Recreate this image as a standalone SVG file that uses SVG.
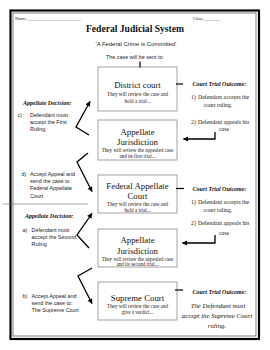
<svg xmlns="http://www.w3.org/2000/svg" width="270" height="350" viewBox="0 0 270 350">
<defs>
<marker id="ah" viewBox="0 0 10 10" refX="9" refY="5" markerWidth="4" markerHeight="4" orient="auto" markerUnits="strokeWidth">
<path d="M0,0 L10,5 L0,10 z" fill="#000"/>
</marker>
<style>
.box{fill:#fff;stroke:#8a8a8a;stroke-width:0.8}
.bt{font-family:"Liberation Serif",serif;font-size:8.8px;fill:#111;text-anchor:middle}
.bs{font-family:"Liberation Serif",serif;font-size:5.1px;fill:#222;text-anchor:middle}
.hd{font-family:"Liberation Serif",serif;font-size:6px;font-style:italic;font-weight:bold;fill:#111}
.lt{font-family:"Liberation Sans",sans-serif;font-size:5.4px;fill:#222}
.rt{font-family:"Liberation Serif",serif;font-size:5.8px;fill:#222}
.big{font-family:"Liberation Serif",serif;font-size:6.8px;font-style:italic;fill:#111;text-anchor:middle}
.arr{fill:none;stroke:#000;stroke-width:1.3;stroke-linejoin:miter}
.tick{fill:none;stroke:#000;stroke-width:1.2}
</style>
</defs>
<rect width="270" height="350" fill="#fff"/>
<rect x="10.5" y="10.5" width="248.5" height="328.5" fill="none" stroke="#000" stroke-width="2.2"/>
<rect x="13" y="13" width="243" height="323" fill="none" stroke="#000" stroke-width="0.5"/>

<g id="header">
<text x="15" y="20" font-family="Liberation Serif, serif" font-size="4.5" fill="#222">Name:________________________</text>
<text x="193" y="20" font-family="Liberation Serif, serif" font-size="4.5" fill="#222">Class________</text>
<text x="135" y="32" font-family="Liberation Serif, serif" font-size="9.6" font-weight="bold" text-anchor="middle" fill="#111">Federal Judicial System</text>
<text x="136" y="46" font-family="Liberation Sans, sans-serif" font-size="5.9" text-anchor="middle" fill="#222">'A Federal Crime is Committed'</text>
<text x="135" y="59" font-family="Liberation Sans, sans-serif" font-size="5.4" text-anchor="middle" fill="#222">The case will be sent to:</text>
</g>

<g id="district">
<rect class="box" x="98" y="67" width="79" height="44"/>
<text class="bt" x="137.5" y="88">District court</text>
<text class="bs" x="137.5" y="96.3">They will review the case and</text>
<text class="bs" x="137.5" y="103.3">hold a trial...</text>
</g>

<g id="appellate1">
<rect class="box" x="98" y="120" width="79" height="40"/>
<text class="bt" x="137.5" y="134.7">Appellate</text>
<text class="bt" x="137.5" y="145">Jurisdiction</text>
<text class="bs" x="137.5" y="151.6">They will review the appealed case</text>
<text class="bs" x="137.5" y="158.3">and its first trial...</text>
</g>

<g id="federalappellate">
<rect class="box" x="98" y="175" width="79" height="38"/>
<text class="bt" x="137.5" y="188.5">Federal Appellate</text>
<text class="bt" x="137.5" y="198.8">Court</text>
<text class="bs" x="137.5" y="205.8">They will review the case and</text>
<text class="bs" x="137.5" y="212">hold a trial...</text>
</g>

<g id="appellate2">
<rect class="box" x="98" y="229" width="79" height="38"/>
<text class="bt" x="137.5" y="243">Appellate</text>
<text class="bt" x="137.5" y="254.3">Jurisdiction</text>
<text class="bs" x="137.5" y="260.6">They will review the appealed case</text>
<text class="bs" x="137.5" y="266.3">and its second trial...</text>
</g>

<g id="supreme">
<rect class="box" x="98" y="282" width="79" height="38"/>
<text class="bt" x="137.5" y="301">Supreme Court</text>
<text class="bs" x="137.5" y="308.3">They will review the case and</text>
<text class="bs" x="137.5" y="314.3">give a verdict...</text>
</g>

<g id="decision1">
<text class="hd" x="23" y="105">Appellate Decision:</text>
<text class="lt" x="17.5" y="117">c)</text>
<text class="lt" x="30" y="117">Defendant must</text>
<text class="lt" x="30" y="124">accept the First</text>
<text class="lt" x="30" y="131">Ruling</text>
<text class="lt" x="21.5" y="176">d)</text>
<text class="lt" x="30" y="176">Accept Appeal and</text>
<text class="lt" x="30" y="183">send the case to</text>
<text class="lt" x="30" y="190">Federal Appellate</text>
<text class="lt" x="30" y="197.5">Court</text>
</g>

<g id="decision2">
<text class="hd" x="25" y="217.5">Appellate Decision:</text>
<text class="lt" x="22.5" y="232">a)</text>
<text class="lt" x="31.5" y="232">Defendant must</text>
<text class="lt" x="31.5" y="239">accept the Second</text>
<text class="lt" x="31.5" y="246">Ruling</text>
<text class="lt" x="22.5" y="297.5">b)</text>
<text class="lt" x="31.5" y="297.5">Accept Appeal and</text>
<text class="lt" x="31.5" y="304.5">send the case to:</text>
<text class="lt" x="31.5" y="311.5">The Supreme Court</text>
</g>

<g id="outcome1">
<text class="hd" x="219.5" y="86" text-anchor="middle">Court Trial Outcome:</text>
<text class="rt" x="191" y="99">1)</text>
<text class="rt" x="198" y="99">Defendant accepts the</text>
<text class="rt" x="218" y="107" text-anchor="middle">court ruling.</text>
<text class="rt" x="191" y="123.5">2)</text>
<text class="rt" x="198" y="123.5">Defendant appeals his</text>
<text class="rt" x="224" y="131" text-anchor="middle">case</text>
</g>

<g id="outcome2">
<text class="hd" x="219.5" y="191" text-anchor="middle">Court Trial Outcome:</text>
<text class="rt" x="191" y="204">1)</text>
<text class="rt" x="198" y="204">Defendant accepts the</text>
<text class="rt" x="218" y="212" text-anchor="middle">court ruling.</text>
<text class="rt" x="191" y="225">2)</text>
<text class="rt" x="198" y="225">Defendant appeals his</text>
<text class="rt" x="224" y="234.5" text-anchor="middle">case</text>
</g>

<g id="outcome3">
<text class="hd" x="219.5" y="294" text-anchor="middle">Court Trial Outcome:</text>
<text class="big" x="218" y="307.5">The Defendant must</text>
<text class="big" x="217" y="318">accept the Supreme Court</text>
<text class="big" x="217" y="327.5">ruling.</text>
</g>

<g id="connectors">
<line x1="3" y1="204" x2="88" y2="204" stroke="#666" stroke-width="0.6"/>
<path class="tick" d="M140 61.5 L140 67.5"/>
<path class="tick" d="M176 84 L183 84"/>
<path class="tick" d="M176 188.5 L184 188.5"/>
<path class="tick" d="M175 290 L183 290"/>
<path class="arr" d="M89 135 L76 127 L90 101.5" marker-end="url(#ah)"/>
<path class="arr" d="M88 153 L77 162 L92 191.5" marker-end="url(#ah)"/>
<path class="arr" d="M89 248 L77 235 L92 213.5" marker-end="url(#ah)"/>
<path class="arr" d="M92 268 L78 276 L92 303.5" marker-end="url(#ah)"/>
<path class="arr" d="M215 132 L215 139 L183.5 139" marker-end="url(#ah)"/>
<path class="arr" d="M215 235 L215 243 L182.5 243" marker-end="url(#ah)"/>
</g>
</svg>
